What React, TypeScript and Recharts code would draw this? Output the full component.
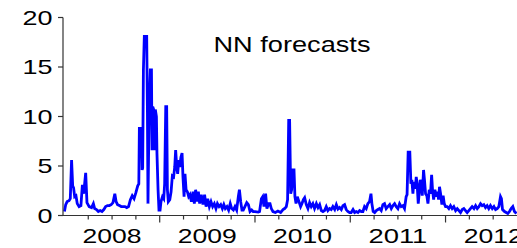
import React from "react";
import { LineChart, Line, XAxis, YAxis, Customized } from "recharts";

// weekly-ish readings: [week of year, forecast value]
const nn2008: [number, number][] = [
  [0, 0.4], [0.7, 1.1], [1.5, 1.4], [2.5, 1.5], [3.2, 1.7], [3.9, 5.6], [4.5, 3.0], [5, 2.8],
  [5.6, 1.9], [6.3, 2.0], [7, 1.2], [8, 0.9], [9, 1.0], [9.8, 3.1], [10.5, 2.2], [11.6, 4.3],
  [12.3, 1.3], [13.5, 0.9], [14.8, 0.8], [15.8, 1.2], [16.5, 0.7], [17.5, 0.6], [18.5, 0.4],
  [19.5, 0.5], [20.5, 0.4], [21.5, 0.6], [22.5, 0.9], [23.5, 1.0], [24.5, 1.0], [25.5, 1.1],
  [26.5, 1.3], [27.5, 2.2], [28.2, 1.4], [29, 1.1], [30, 1.0], [31, 0.9], [32, 0.9], [33, 0.9],
  [34, 0.8], [35, 0.9], [36, 1.6], [37, 2.0], [38, 1.7], [39, 2.3], [40, 3.0], [40.6, 3.2],
  [40.9, 8.8], [42, 8.8], [42.4, 4.6], [42.7, 4.8], [43.1, 14.7], [43.6, 18.1], [44.9, 18.1],
  [45.3, 10.5], [45.6, 1.2], [46, 7.3], [46.4, 11.7], [46.9, 14.7], [47.5, 14.7], [47.8, 6.6],
  [48.2, 11.0], [48.7, 10.7], [49.3, 6.6], [49.6, 10.7], [50.2, 10.0], [50.5, 6.3], [51.1, 2.6],
  [51.6, 0.55],
];

const nn2009: [number, number][] = [
  [0.2, 0.55], [0.7, 1.4], [1.5, 1.9], [2.2, 1.7], [2.7, 3.2], [3.3, 11.0], [3.8, 11.0], [4.2, 2.6],
  [4.7, 1.4], [5.5, 1.6], [6.2, 2.4], [6.9, 4.0], [7.6, 3.9], [8.2, 4.9], [8.7, 6.6], [9.3, 4.9],
  [9.8, 4.2], [10.4, 5.6], [10.9, 4.9], [11.6, 5.9], [12.2, 6.3], [12.7, 3.9], [13.3, 1.9],
  [13.8, 4.2], [14.4, 2.6], [15.1, 2.4], [15.8, 1.9], [16.5, 2.1], [17.3, 1.4], [18.2, 2.4],
  [18.9, 1.2], [19.6, 2.6], [20.4, 1.4], [21.1, 2.4], [21.8, 1.2], [22.7, 2.1], [23.6, 1.1],
  [24.5, 2.1], [25.3, 0.9], [26.2, 1.7], [27.1, 0.9], [28, 1.4], [28.9, 0.9], [29.8, 1.2],
  [30.7, 0.7], [31.5, 1.2], [32.4, 0.9], [33.3, 1.1], [34.2, 0.7], [35, 1.1], [35.8, 0.7],
  [36.7, 0.9], [37.6, 0.55], [38.5, 1.2], [39.3, 0.7], [40.2, 0.55], [41.1, 0.9], [42, 0.55],
  [42.9, 1.9], [43.5, 2.6], [44.2, 1.4], [44.9, 0.55], [45.6, 0.55], [46.5, 0.9], [47.5, 1.3],
  [48.4, 1.1], [49.3, 0.4], [50.2, 0.55], [51, 0.4],
];

const nn2010: [number, number][] = [
  [0, 0.4], [1.8, 0.35], [2.5, 0.4], [3.5, 1.7], [4.2, 1.9], [4.9, 0.9], [5.8, 2.2], [6.5, 0.7],
  [7.5, 1.2], [8.2, 1.2], [8.9, 0.7], [9.8, 0.4], [11.1, 0.3], [12.5, 0.45], [14, 0.3], [15.3, 0.6],
  [16.2, 0.7], [17.1, 0.9], [17.8, 1.6], [18.4, 9.6], [18.9, 9.6], [19.5, 2.2], [20, 2.6],
  [20.7, 4.6], [21.3, 4.6], [21.8, 1.9], [22.4, 1.2], [23.1, 1.9], [24, 1.4], [24.9, 0.9],
  [25.6, 1.2], [26.4, 1.6], [27.1, 1.8], [28, 1.1], [28.9, 0.7], [29.8, 1.3], [30.7, 0.9],
  [31.6, 1.2], [32.5, 0.7], [33.5, 1.2], [34.4, 0.8], [35.3, 1.1], [36.2, 0.5], [37.1, 0.4],
  [38, 0.5], [38.9, 0.9], [39.8, 0.5], [40.7, 0.7], [41.6, 0.6], [42.5, 0.9], [43.5, 0.6],
  [44.4, 1.1], [45.3, 0.65], [46.2, 0.8], [47.1, 0.6], [48, 1.0], [48.9, 1.1], [49.8, 0.6],
  [50.7, 0.4], [51.6, 0.3],
];

const nn2011: [number, number][] = [
  [0.5, 0.3], [1.5, 0.6], [2.4, 0.3], [3.3, 0.4], [4.2, 0.3], [5.1, 0.5], [6, 0.4], [6.9, 0.4],
  [7.8, 0.9], [8.7, 0.7], [9.6, 1.2], [10.5, 1.4], [11.3, 2.2], [11.8, 1.2], [12.5, 0.4],
  [13.3, 0.3], [14.2, 0.5], [15.1, 0.6], [16, 0.7], [16.9, 0.5], [17.8, 1.1], [18.7, 1.2],
  [19.6, 0.7], [20.5, 0.9], [21.5, 1.1], [22.4, 0.7], [23.3, 1.0], [24.2, 1.2], [25.1, 0.9],
  [26, 0.7], [26.9, 1.2], [27.8, 0.9], [28.7, 1.0], [29.6, 0.7], [30.5, 1.9], [31, 2.1],
  [31.6, 6.4], [32.5, 6.4], [33.1, 3.2], [33.6, 3.6], [34.2, 2.2], [34.7, 3.4], [35.5, 2.7],
  [36, 3.9], [36.5, 3.2], [37.1, 1.2], [37.6, 2.2], [38.2, 3.6], [38.7, 3.2], [39.3, 2.0],
  [40, 4.6], [40.5, 3.6], [41.1, 2.2], [41.8, 2.0], [42.4, 1.2], [43.1, 2.6], [43.8, 2.2],
  [44.4, 4.1], [44.9, 2.6], [45.5, 1.6], [46.2, 2.6], [46.9, 1.9], [47.6, 2.4], [48.2, 1.6],
  [48.7, 2.9], [49.3, 2.2], [50, 1.1], [50.7, 2.0], [51.3, 1.2],
];

const nn2012: [number, number][] = [
  [0, 0.9], [0.9, 0.9], [1.8, 0.7], [2.7, 1.0], [3.6, 0.7], [4.5, 0.9], [5.5, 0.5], [6.4, 0.7],
  [7.3, 0.5], [8.2, 0.3], [9.1, 0.6], [10, 0.7], [10.9, 0.5], [11.8, 0.3], [12.7, 0.5],
  [13.6, 0.7], [14.5, 0.9], [15.5, 0.7], [16.4, 1.0], [17.3, 0.7], [18.2, 0.9], [19.1, 1.2],
  [20, 1.0], [20.9, 1.1], [21.8, 0.8], [22.7, 1.0], [23.6, 0.7], [24.5, 1.0], [25.5, 0.7],
  [26.4, 0.9], [27.3, 0.6], [28.2, 0.7], [29.1, 0.9], [30, 1.9], [30.5, 1.7], [31.1, 0.6],
  [32.2, 0.4], [33.1, 0.3], [34, 0.2], [34.9, 0.4], [35.8, 0.7], [36.7, 0.9], [37.6, 0.4],
  [38.7, 0.2],
];

const years = [2008, 2009, 2010, 2011, 2012];
const yTicks = [0, 5, 10, 15, 20];
const quarterTicks = [
  2008.25, 2008.5, 2008.75, 2009, 2009.25, 2009.5, 2009.75, 2010, 2010.25, 2010.5, 2010.75,
  2011, 2011.25, 2011.5, 2011.75, 2012, 2012.25, 2012.5,
];
const title = "NN forecasts";

const data = [nn2008, nn2009, nn2010, nn2011, nn2012].flatMap((pts, i) =>
  pts.map(([w, v]) => ({ t: years[i] + w / 52, v })),
);

const FONT = "'Liberation Sans', Arial, sans-serif";
const AXIS = "#333333";

const XTick = (props: any) => {
  const { x, y, payload } = props;
  const v: number = payload.value;
  const frac = v - Math.floor(v);
  const isYear = frac < 1e-6;
  const isMid = Math.abs(frac - 0.5) < 1e-6;
  return (
    <g>
      <line x1={x} x2={x} y1={y} y2={y + (isYear ? 7 : 4)} stroke={AXIS} strokeWidth={1.2} />
      {isMid && (
        <text
          x={x}
          y={y + 27.5}
          textAnchor="middle"
          fontSize={21}
          fontFamily={FONT}
          fill="#000"
          textLength={59}
          lengthAdjust="spacingAndGlyphs"
        >
          {Math.floor(v)}
        </text>
      )}
    </g>
  );
};

const YTick = (props: any) => {
  const { x, y, payload } = props;
  const label = String(payload.value);
  return (
    <g>
      <line x1={x - 5} x2={x} y1={y} y2={y} stroke={AXIS} strokeWidth={1.2} />
      <text
        x={x - 10.5}
        y={y + 7}
        textAnchor="end"
        fontSize={21}
        fontFamily={FONT}
        fill="#000"
        textLength={label.length * 15}
        lengthAdjust="spacingAndGlyphs"
      >
        {label}
      </text>
    </g>
  );
};

const Title = () => (
  <text
    x={213.5}
    y={52}
    fontSize={22}
    fontFamily={FONT}
    fill="#000"
    textLength={157}
    lengthAdjust="spacingAndGlyphs"
  >
    {title}
  </text>
);

export default function App() {
  return (
    <div
      style={{
        position: "absolute",
        left: 0,
        top: 0,
        width: 517,
        height: 248,
        overflow: "hidden",
        background: "#fff",
      }}
    >
      <LineChart
        width={517}
        height={248}
        data={data}
        margin={{ top: 17.5, right: 0, left: 0, bottom: 0 }}
      >
        <XAxis
          type="number"
          dataKey="t"
          domain={[2007.985, 2012.75]}
          ticks={quarterTicks}
          interval={0}
          allowDataOverflow
          height={32.5}
          tickSize={0}
          tickMargin={0}
          tickLine={false}
          axisLine={{ stroke: AXIS, strokeWidth: 1.2 }}
          tick={<XTick />}
        />
        <YAxis
          type="number"
          domain={[0, 20]}
          ticks={yTicks}
          interval={0}
          width={63}
          tickSize={0}
          tickMargin={0}
          tickLine={false}
          axisLine={{ stroke: AXIS, strokeWidth: 1.2 }}
          tick={<YTick />}
        />
        <Line
          type="linear"
          dataKey="v"
          stroke="#0000ff"
          strokeWidth={2.8}
          strokeLinejoin="miter"
          dot={false}
          isAnimationActive={false}
        />
        <Customized component={Title} />
      </LineChart>
    </div>
  );
}
